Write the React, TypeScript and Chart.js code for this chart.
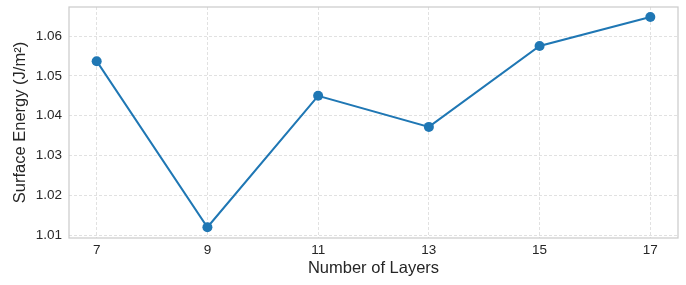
import React, { useEffect, useRef } from "react";
import { Chart, registerables } from "chart.js";

Chart.register(...registerables);

const layers = [7, 9, 11, 13, 15, 17];
const surfaceEnergy = [1.0537, 1.012, 1.045, 1.0372, 1.0575, 1.0648];
const xTicks = [7, 9, 11, 13, 15, 17];
const yTicks = [1.01, 1.02, 1.03, 1.04, 1.05, 1.06];

const FONT = "'Liberation Sans', Arial, sans-serif";

const boxPlugin = {
  id: "boxPlugin",
  afterDraw(chart: any) {
    const { ctx, chartArea } = chart;
    ctx.save();
    ctx.strokeStyle = "#cccccc";
    ctx.lineWidth = 1.25;
    ctx.strokeRect(chartArea.left, chartArea.top, chartArea.right - chartArea.left, chartArea.bottom - chartArea.top);
    ctx.restore();
  },
};

export default function App() {
  const ref = useRef<HTMLCanvasElement | null>(null);

  useEffect(() => {
    document.body.style.margin = "0";
    const canvas = ref.current;
    if (!canvas) return;
    const chart = new Chart(canvas, {
      type: "line",
      data: {
        datasets: [
          {
            data: layers.map((x, i) => ({ x, y: surfaceEnergy[i] })),
            borderColor: "#1f77b4",
            backgroundColor: "#1f77b4",
            borderWidth: 2,
            pointRadius: 5,
            pointHoverRadius: 5,
            pointBorderWidth: 0,
            tension: 0,
          },
        ],
      },
      options: {
        animation: false,
        responsive: false,
        maintainAspectRatio: false,
        layout: { padding: { left: 0, right: 8, top: 7, bottom: 0 } },
        plugins: { legend: { display: false }, tooltip: { enabled: false } },
        scales: {
          x: {
            type: "linear",
            min: 6.5,
            max: 17.5,
            afterBuildTicks: (s: any) => {
              s.ticks = xTicks.map((v) => ({ value: v }));
            },
            afterFit: (s: any) => {
              s.height = 47;
              s.paddingLeft = 0;
              s.paddingRight = 0;
            },
            border: { display: false, dash: [3, 2] },
            grid: { color: "#d9d9d9", lineWidth: 0.8, drawTicks: false },
            ticks: {
              padding: 4,
              color: "#262626",
              font: { family: FONT, size: 13.5 },
              callback: (v: any) => String(v),
            },
            title: {
              display: true,
              text: "Number of Layers",
              color: "#262626",
              font: { family: FONT, size: 16.5 },
              padding: { top: 0, bottom: 7 },
            },
          },
          y: {
            type: "linear",
            min: 1.0093,
            max: 1.0673,
            afterBuildTicks: (s: any) => {
              s.ticks = yTicks.map((v) => ({ value: v }));
            },
            afterFit: (s: any) => {
              s.width = 69;
              s.paddingTop = 0;
              s.paddingBottom = 0;
            },
            border: { display: false, dash: [3, 2] },
            grid: { color: "#d9d9d9", lineWidth: 0.8, drawTicks: false },
            ticks: {
              padding: 7,
              color: "#262626",
              font: { family: FONT, size: 13.5 },
              callback: (v: any) => Number(v).toFixed(2),
            },
            title: {
              display: true,
              text: "Surface Energy (J/m²)",
              color: "#262626",
              font: { family: FONT, size: 16.5 },
              padding: { top: 11, bottom: 0 },
            },
          },
        },
      },
      plugins: [boxPlugin],
    } as any);
    return () => chart.destroy();
  }, []);

  return (
    <div style={{ width: 686, height: 285 }}>
      <canvas ref={ref} width={686} height={285} style={{ width: 686, height: 285, display: "block" }} />
    </div>
  );
}
